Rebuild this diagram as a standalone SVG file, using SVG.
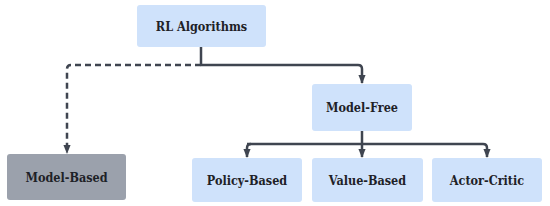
<svg xmlns="http://www.w3.org/2000/svg" width="550" height="206" viewBox="0 0 550 206">
<defs>
<style>
.box{fill:#cfe2fb;}
.gray{fill:#9ba1ac;}
.lbl{font-family:"DejaVu Serif Condensed","DejaVu Serif",serif;font-stretch:condensed;font-weight:bold;font-size:12.5px;fill:#1e2127;text-anchor:middle;dominant-baseline:central;}
.ln{fill:none;stroke:#3f4550;stroke-width:2.5;stroke-linejoin:round;}
.dash{stroke-dasharray:6 4;}
</style>
<marker id="ah" viewBox="0 0 10 10" refX="9" refY="5" markerWidth="9" markerHeight="9" markerUnits="userSpaceOnUse" orient="auto">
<path d="M0,1 L10,5 L0,9 z" fill="#3f4550"/>
</marker>
</defs>
<rect width="550" height="206" fill="#ffffff"/>
<g id="connectors">
<path class="ln dash" d="M201,65 H71 Q67,65 67,69 V153" marker-end="url(#ah)"/>
<path class="ln" d="M201,47 V65 H358 Q362,65 362,69 V83" marker-end="url(#ah)"/>
<path class="ln" d="M362,131 V157" marker-end="url(#ah)"/>
<path class="ln" d="M251,144 Q247,144 247,148 V157" marker-end="url(#ah)"/>
<path class="ln" d="M247,144 H483 Q487,144 487,148 V157" marker-end="url(#ah)"/>
</g>
<g id="rl-algorithms">
<rect class="box" x="137" y="5" width="129" height="42" rx="3"/>
<text class="lbl" x="201.5" y="26">RL Algorithms</text>
</g>
<g id="model-based">
<rect class="gray" x="7" y="154" width="119" height="46" rx="3"/>
<text class="lbl" x="66.5" y="177">Model-Based</text>
</g>
<g id="model-free">
<rect class="box" x="312" y="84" width="100" height="47" rx="3"/>
<text class="lbl" x="362" y="107.5">Model-Free</text>
</g>
<g id="policy-based">
<rect class="box" x="192" y="158" width="110" height="44" rx="3"/>
<text class="lbl" x="247" y="180">Policy-Based</text>
</g>
<g id="value-based">
<rect class="box" x="312" y="158" width="111" height="44" rx="3"/>
<text class="lbl" x="367.5" y="180">Value-Based</text>
</g>
<g id="actor-critic">
<rect class="box" x="432" y="158" width="110" height="44" rx="3"/>
<text class="lbl" x="487" y="180">Actor-Critic</text>
</g>
</svg>
